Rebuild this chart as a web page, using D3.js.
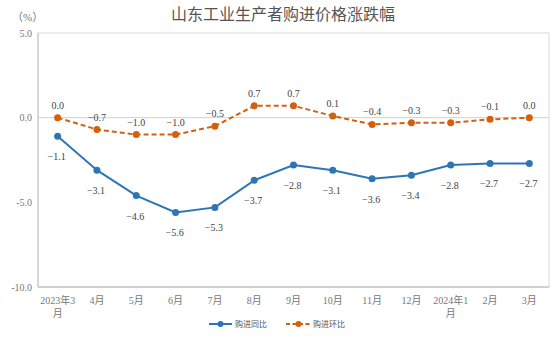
<!DOCTYPE html>
<html><head><meta charset="utf-8">
<script src="https://cdn.jsdelivr.net/npm/d3@7/dist/d3.min.js"></script>
<style>
html,body{margin:0;padding:0;background:#fff;}
svg text{font-family:"Liberation Serif","DejaVu Serif","Noto Sans CJK SC",serif;}
</style></head>
<body>
<svg id="c" width="553" height="356"></svg>
<script>
const categories = ["2023年3月","4月","5月","6月","7月","8月","9月","10月","11月","12月","2024年1月","2月","3月"];
const yoy = [-1.1,-3.1,-4.6,-5.6,-5.3,-3.7,-2.8,-3.1,-3.6,-3.4,-2.8,-2.7,-2.7];
const mom = [0.0,-0.7,-1.0,-1.0,-0.5,0.7,0.7,0.1,-0.4,-0.3,-0.3,-0.1,0.0];
const yTicks = [5.0,0.0,-5.0,-10.0];
const seriesNames = ["购进同比","购进环比"];
const title = "山东工业生产者购进价格涨跌幅";

const svg = d3.select("#c");
const L=38,R=549,T=33,B=287;
const blue="#2E75B6", orange="#D2600F";
const x = d3.scaleBand().domain(categories).range([L,R]);
const y = d3.scaleLinear().domain([-10,5]).range([B,T]);
const cx = d=>x(d)+x.bandwidth()/2;

// frame
svg.append("rect").attr("x",L).attr("y",T).attr("width",R-L).attr("height",B-T)
  .attr("fill","none").attr("stroke","#d9d9d9").attr("stroke-width",1);
svg.append("line").attr("x1",L).attr("x2",R).attr("y1",B).attr("y2",B).attr("stroke","#d0d0d0").attr("stroke-width",2);
svg.append("line").attr("x1",L).attr("x2",L).attr("y1",T).attr("y2",B).attr("stroke","#d0d0d0").attr("stroke-width",1.5);
svg.append("line").attr("x1",L).attr("x2",R).attr("y1",y(0)).attr("y2",y(0)).attr("stroke","#d0d0d0").attr("stroke-width",1);

// y ticks
svg.selectAll(".yt").data(yTicks).enter().append("text")
  .attr("x",L-6).attr("y",d=>y(d)+3.5).attr("text-anchor","end")
  .attr("font-size",10).attr("fill","#777").text(d=>d.toFixed(1));
svg.append("text").attr("x",12).attr("y",21).attr("font-size",11).attr("fill","#777").text("（%）");

// x labels
categories.forEach(c=>{
  const m = c.match(/^(\d{4}年\d+)(月)$/);
  const t = svg.append("text").attr("x",cx(c)).attr("y",304).attr("text-anchor","middle")
    .attr("font-size",10).attr("fill","#777");
  if(m){
    t.append("tspan").attr("x",cx(c)).attr("y",304).text(m[1]);
    t.append("tspan").attr("x",cx(c)).attr("y",317).text(m[2]);
  } else t.text(c);
});

// title
svg.append("text").attr("x",283).attr("y",20).attr("text-anchor","middle")
  .attr("font-size",16).attr("fill","#555").text(title);

const line = d3.line().x((d,i)=>cx(categories[i])).y(d=>y(d));

// yoy
svg.append("path").datum(yoy).attr("d",line).attr("fill","none").attr("stroke",blue).attr("stroke-width",2);
svg.selectAll(".py").data(yoy).enter().append("circle")
  .attr("cx",(d,i)=>cx(categories[i])).attr("cy",d=>y(d)).attr("r",3.5).attr("fill",blue);
svg.selectAll(".ly").data(yoy).enter().append("text")
  .attr("x",(d,i)=>cx(categories[i])-1).attr("y",d=>y(d)+24).attr("text-anchor","middle")
  .attr("font-size",10).attr("fill","#444").text(d=>d.toFixed(1).replace("-","−"));

// mom
svg.append("path").datum(mom).attr("d",line).attr("fill","none").attr("stroke",orange).attr("stroke-width",2).attr("stroke-dasharray","5,3");
svg.selectAll(".pm").data(mom).enter().append("circle")
  .attr("cx",(d,i)=>cx(categories[i])).attr("cy",d=>y(d)).attr("r",3.5).attr("fill",orange);
svg.selectAll(".lm").data(mom).enter().append("text")
  .attr("x",(d,i)=>cx(categories[i])).attr("y",d=>y(d)-9).attr("text-anchor","middle")
  .attr("font-size",10).attr("fill","#444").text(d=>d.toFixed(1).replace("-","−"));

// legend
const lg = svg.append("g").attr("font-size",8).attr("fill","#555");
lg.append("line").attr("x1",209).attr("x2",232).attr("y1",324).attr("y2",324).attr("stroke",blue).attr("stroke-width",2);
lg.append("circle").attr("cx",220.5).attr("cy",324).attr("r",3).attr("fill",blue);
lg.append("text").attr("x",235).attr("y",327).attr("fill","#555").text(seriesNames[0]);
lg.append("line").attr("x1",286).attr("x2",311).attr("y1",324).attr("y2",324).attr("stroke",orange).attr("stroke-width",2).attr("stroke-dasharray","4,2.5");
lg.append("circle").attr("cx",298.5).attr("cy",324).attr("r",3).attr("fill",orange);
lg.append("text").attr("x",313).attr("y",327).attr("fill","#555").text(seriesNames[1]);
</script>
</body></html>
